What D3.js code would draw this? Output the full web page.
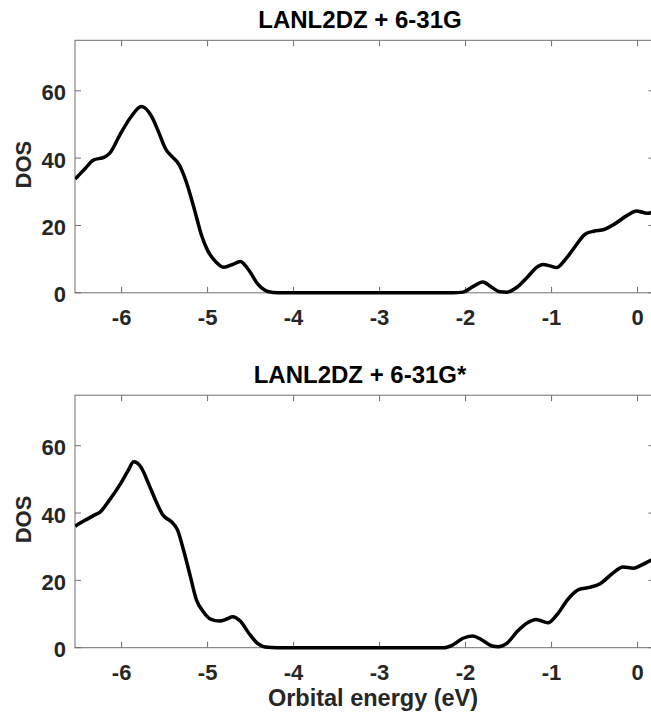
<!DOCTYPE html>
<html>
<head>
<meta charset="utf-8">
<script src="https://cdn.jsdelivr.net/npm/d3@7"></script>
<style>
  body { margin: 0; background: #fff; }
  svg { display: block; }
  text { font-family: "Liberation Sans", Arial, Helvetica, sans-serif; font-weight: bold; }
</style>
</head>
<body>
<div id="chart"></div>
<script>
// orbital energy (eV) and DOS
const energyTop = [-6.54, -6.42, -6.33, -6.2, -6.14, -6.02, -5.89, -5.77, -5.65, -5.58, -5.48, -5.41, -5.33, -5.27, -5.2, -5.14, -5.07, -5.0, -4.9, -4.81, -4.71, -4.62, -4.52, -4.42, -4.3, -4.18, -3.5, -2.8, -2.15, -2.03, -1.91, -1.8, -1.7, -1.6, -1.52, -1.41, -1.28, -1.16, -1.1, -1.02, -0.94, -0.85, -0.73, -0.61, -0.51, -0.39, -0.27, -0.12, -0.01, 0.06, 0.12, 0.2];
const dosTop    = [33.8, 37.0, 39.4, 40.3, 41.4, 46.9, 52.3, 55.3, 52.3, 48.4, 42.4, 40.4, 38.0, 34.5, 29.0, 23.5, 17.0, 12.6, 9.1, 7.6, 8.4, 9.3, 6.7, 2.7, 0.4, 0.0, 0.0, 0.0, 0.0, 0.2, 1.9, 3.2, 1.7, 0.3, 0.2, 1.5, 4.7, 7.8, 8.4, 8.0, 7.5, 9.6, 13.6, 17.4, 18.3, 18.8, 20.4, 23.0, 24.3, 23.9, 23.6, 24.3];

const energyBot = [-6.54, -6.42, -6.3, -6.26, -6.14, -6.01, -5.92, -5.86, -5.78, -5.68, -5.59, -5.52, -5.42, -5.35, -5.28, -5.2, -5.13, -5.05, -4.96, -4.86, -4.77, -4.71, -4.62, -4.52, -4.42, -4.3, -4.2, -3.5, -2.8, -2.25, -2.15, -2.03, -1.92, -1.81, -1.69, -1.62, -1.52, -1.4, -1.28, -1.18, -1.04, -0.94, -0.8, -0.68, -0.56, -0.43, -0.29, -0.17, -0.05, 0.05, 0.16, 0.2];
const dosBot    = [36.1, 37.9, 39.6, 40.1, 43.9, 48.8, 52.8, 55.2, 53.8, 48.3, 42.9, 39.4, 37.4, 35.0, 29.0, 21.1, 14.2, 10.7, 8.4, 7.9, 8.6, 9.2, 7.9, 4.3, 1.3, 0.1, 0.0, 0.0, 0.0, 0.0, 0.8, 2.8, 3.5, 2.3, 0.5, 0.3, 1.3, 4.8, 7.4, 8.4, 7.4, 9.7, 14.7, 17.3, 17.9, 19.1, 22.1, 24.0, 23.6, 24.6, 26.0, 26.4];

const titles = ["LANL2DZ + 6-31G", "LANL2DZ + 6-31G*"];
const xTicks = [-6, -5, -4, -3, -2, -1, 0];
const yTicks = [0, 20, 40, 60];

const width = 651, height = 714;
const left = 75, right = 654.5, panelH = 252.5;
const tops = [40.3, 395.2];

const svg = d3.select("#chart").append("svg")
    .attr("width", width)
    .attr("height", height);

const xscale = d3.scaleLinear().domain([-6.542, 0.197]).range([left, right]);

function drawPanel(i, energy, dos) {
    const top = tops[i], bottom = top + panelH;
    const yscale = d3.scaleLinear().domain([0, 75]).range([bottom, top]);
    const g = svg.append("g");

    g.append("clipPath").attr("id", "clip" + i)
      .append("rect")
        .attr("x", left).attr("y", top - 5)
        .attr("width", right - left).attr("height", panelH + 10);

    // ticks inward on all four sides
    const axisColor = "#6e6e6e";
    const tl = 6;
    xTicks.forEach(t => {
        const x = xscale(t);
        g.append("line").attr("x1", x).attr("x2", x).attr("y1", bottom).attr("y2", bottom - tl)
          .attr("stroke", axisColor).attr("stroke-width", 1);
        g.append("line").attr("x1", x).attr("x2", x).attr("y1", top).attr("y2", top + tl)
          .attr("stroke", axisColor).attr("stroke-width", 1);
        g.append("text")
          .attr("x", x).attr("y", bottom + 32.5)
          .attr("text-anchor", "middle")
          .attr("fill", "#262626")
          .style("font-size", "22px")
          .text(t === 0 ? "0" : "-" + Math.abs(t));
    });
    yTicks.forEach(t => {
        const y = yscale(t);
        g.append("line").attr("x1", left).attr("x2", left + tl).attr("y1", y).attr("y2", y)
          .attr("stroke", axisColor).attr("stroke-width", 1);
        g.append("line").attr("x1", right).attr("x2", right - tl).attr("y1", y).attr("y2", y)
          .attr("stroke", axisColor).attr("stroke-width", 1);
        g.append("text")
          .attr("x", 66).attr("y", y + 9.5)
          .attr("text-anchor", "end")
          .attr("fill", "#262626")
          .style("font-size", "22px")
          .text(t);
    });

    g.append("rect")
        .attr("x", left).attr("y", top)
        .attr("width", right - left).attr("height", panelH)
        .attr("fill", "none")
        .attr("stroke", axisColor)
        .attr("stroke-width", 1);

    const pts = energy.map((e, k) => [e, dos[k]]);
    const line = d3.line()
        .x(d => xscale(d[0]))
        .y(d => yscale(d[1]))
        .curve(d3.curveMonotoneX);

    g.append("path")
        .datum(pts)
        .attr("clip-path", `url(#clip${i})`)
        .attr("d", line)
        .attr("fill", "none")
        .attr("stroke", "#000")
        .attr("stroke-width", 3.5)
        .attr("stroke-linejoin", "round");

    g.append("text")
        .attr("x", 360).attr("y", top - 12)
        .attr("text-anchor", "middle")
        .attr("fill", "#000")
        .style("font-size", "24px")
        .text(titles[i]);

    g.append("text")
        .attr("transform", `translate(31, ${(top + bottom) / 2 - 2}) rotate(-90)`)
        .attr("text-anchor", "middle")
        .attr("fill", "#262626")
        .style("font-size", "22px")
        .text("DOS");
}

drawPanel(0, energyTop, dosTop);
drawPanel(1, energyBot, dosBot);

svg.append("text")
    .attr("x", 373).attr("y", 706)
    .attr("text-anchor", "middle")
    .attr("fill", "#262626")
    .style("font-size", "23.5px")
    .text("Orbital energy (eV)");
</script>
</body>
</html>
